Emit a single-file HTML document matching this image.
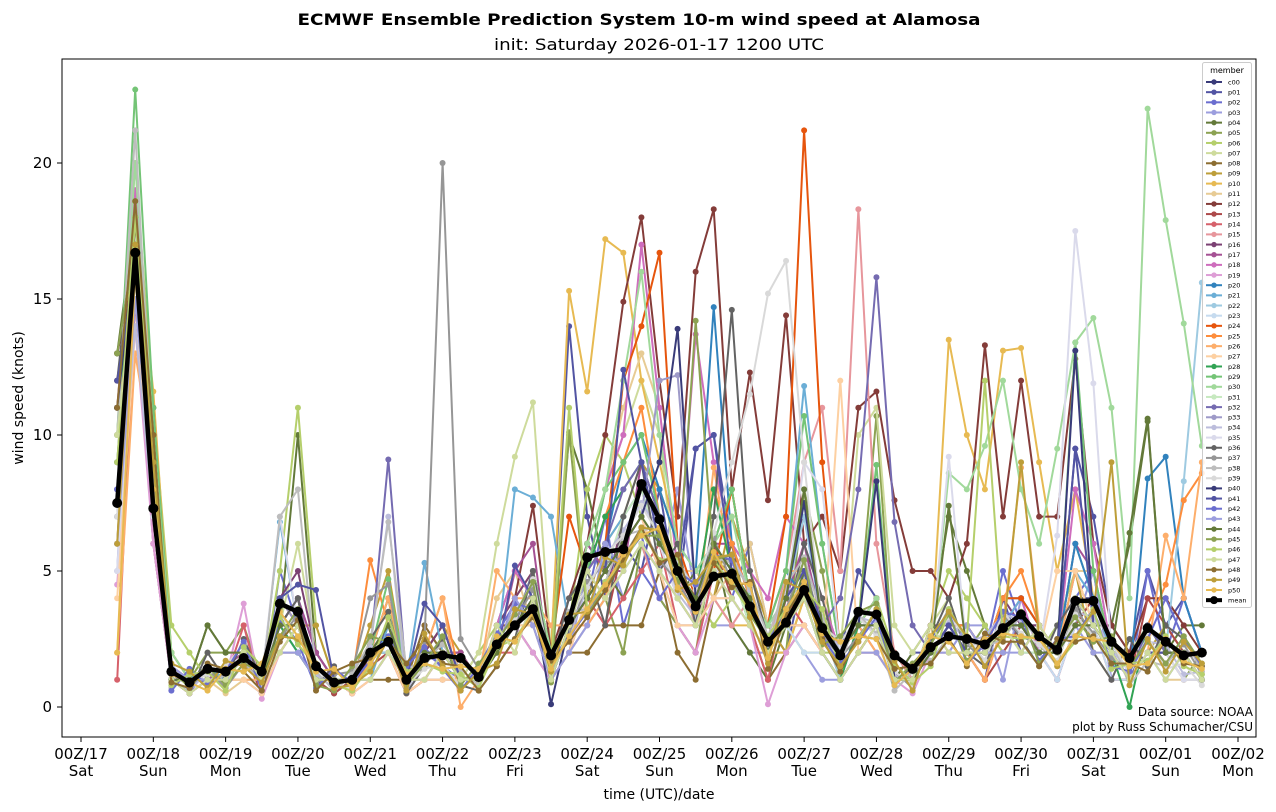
<!DOCTYPE html>
<html><head><meta charset="utf-8">
<style>
body{margin:0;background:#fff;}
svg{display:block;font-family:"DejaVu Sans","Liberation Sans",sans-serif;}
</style></head>
<body>
<svg id="chart" width="1276" height="812" viewBox="0 0 1276 812" xmlns="http://www.w3.org/2000/svg">
<text x="639" y="25" text-anchor="middle" font-size="16" font-weight="bold" textLength="683" lengthAdjust="spacingAndGlyphs">ECMWF Ensemble Prediction System 10-m wind speed at Alamosa</text>
<text x="659" y="50" text-anchor="middle" font-size="16" textLength="330" lengthAdjust="spacingAndGlyphs">init: Saturday 2026-01-17 1200 UTC</text>
<text transform="translate(23,398) rotate(-90)" text-anchor="middle" font-size="14">wind speed (knots)</text>
<text x="659" y="799" text-anchor="middle" font-size="14">time (UTC)/date</text>
<g id="xticks"></g>
<g id="yticks"></g>
<clipPath id="clip"><rect x="62" y="59" width="1194" height="678"/></clipPath>
<g id="series" clip-path="url(#clip)"></g>
<rect x="62" y="59" width="1194" height="678" fill="none" stroke="#000" stroke-width="1"/>
<text x="1253" y="716" text-anchor="end" font-size="12">Data source: NOAA</text>
<text x="1253" y="731" text-anchor="end" font-size="12">plot by Russ Schumacher/CSU</text>
<g id="legend"></g>
</svg>
<script>
const members = ["c00","p01","p02","p03","p04","p05","p06","p07","p08","p09","p10","p11","p12","p13","p14","p15","p16","p17","p18","p19","p20","p21","p22","p23","p24","p25","p26","p27","p28","p29","p30","p31","p32","p33","p34","p35","p36","p37","p38","p39","p40","p41","p42","p43","p44","p45","p46","p47","p48","p49","p50"];
const colors = ["#393b79","#5254a3","#6b6ecf","#9c9ede","#637939","#8ca252","#b5cf6b","#cedb9c","#8c6d31","#bd9e39","#e7ba52","#e7cb94","#843c39","#ad494a","#d6616b","#e7969c","#7b4173","#a55194","#ce6dbd","#de9ed6","#3182bd","#6baed6","#9ecae1","#c6dbef","#e6550d","#fd8d3c","#fdae6b","#fdd0a2","#31a354","#74c476","#a1d99b","#c7e9c0","#756bb1","#9e9ac8","#bcbddc","#dadaeb","#636363","#969696","#bdbdbd","#d9d9d9","#393b79","#5254a3","#6b6ecf","#9c9ede","#637939","#8ca252","#b5cf6b","#cedb9c","#8c6d31","#bd9e39","#e7ba52"];
const memberValues = [
"11 17 9 1 1 1.5 1 2 1 4 | 3 1 .5 1 2 2 1 2 2 1 | 1 2 3 4 2 3 6 5 6 8 | 7 5 4 5 5 4 2 3 4 3 | 2 3 3 2 1 2 3 2 2 3 | 3 3 2 4 4 2 2 3 2 2 | 2",
"12 16 8 1.5 1 1 1 2 1 3 | 4 2 1 1 1.5 3 1 3 2 2 | 1 3 5 4 2 14 7 4 6 5 | 8 4 9.5 10 6 5 3 2 5 4 | 2 5 4 1 2 2 3 2 1 4 | 2 3 2 9.5 7 3 2 5 3 4 | 2",
"9 15 6 1 .5 1.5 1 1 .5 5 | 3 2 1 1 2 4 1 2 1.5 1 | 1 2 3 2 1 3 4 7 3 5 | 4 3 2 5 4 6 3 4 5 2 | 1 3 4 1 1 2 3 3 2 5 | 3 2 3 4 5 1 1 5 2 4 | 2",
"5 18 7 2 1 1 1.5 2 1 2 | 3 1 1 .5 1 2 .5 1 2 1 | 1 2 4 3 1 2 5 6 4 6 | 5 8 4 3 3 2 2 3 2 1 | 1 2 2 1 1 2 2 3 3 1 | 4 2 1 3 5 1 1 2 1 2 | 1",
"13 18 10 1 1 3 2 2 1 3 | 10 2 1 .5 2 3 1 1 2 2 | 1 2 3 5 2 10 8 5 4 6 | 5 4 5 6 3 2 1 3 5 2 | 1 2 3 1 2 3 7 5 3 2 | 3 2 2 4 3 3 6 10.5 2 3 | 3",
"11 19 9 2 1 2 2 3 1 4 | 3 1 .5 1 2 4 .5 1 2 1 | 1 2 3 2 1 2 3 4 2 6 | 4 3 2 6 8 4 2 2 8 5 | 1 3 10.7 1 1 3 2 2 3 2 | 3 2 1 3 4 2 1 3 2 1 | 2",
"10 20 11 3 2 1 1 2 1 5 | 11 3 1 1 2 2 1 1 2 1 | 2 3 4 5 2 3 8 10 9 7 | 6 5 4 3 4 3 2 3 2 2 | 2 3 4 2 1 3 5 4 3 2 | 3 2 3 5 3 2 1 2 3 2 | 2",
"8 15 7 1 .5 1 1 1 1 3 | 6 2 1 1 1.5 2 .5 1 1 1 | 2 6 9.2 11.2 2 3 5 8 10 12 | 10 4 3 5 5 4 2 3 4 3 | 2 10 11 3 2 3 4 2 2 3 | 2 3 2 6 4 2 2 3 2 2 | 1",
"6 18 7 1 1 1 1 2 1 3 | 4 1 1 1 1 1 1 3 2 1 | 1 3 3 3 1 2 2 3 3 3 | 5 2 1 4 6 3 1 2 3 2 | 1 2 3 2 1 2 3 2 2 3 | 3 2 2 3 3 2 1 2 2 1 | 1",
"12 17 10 2 1 1 1 2 1 4 | 3 3 1 1 3 5 1 2 3 2 | 1 2 3 5 2 3 4 6 7 9 | 8 6 3 4 7 5 3 2 4 3 | 1 2 3 1 1 2 3 2 1 3 | 2 3 2 5 2 1 1 2 3 2 | 2",
"9 18 11.6 2 1 1 1 2 1 2 | 3 1 1 1 1 2 1 2 3 1 | 1 3 4 5 2 15.3 11.6 17.2 16.7 12 | 9 6 5 4 3 3 2 2 4 3 | 2 3 4 1 1 2 13.5 10 8 13.1 | 13.2 9 5 8 4 2 1 3 2 1 | 1",
"7 14 8 1 1 1 .5 1 1 2 | 2 1 1 .5 1 2 .5 1 1 1 | 1 4 5 3 1 3 6 8 11 13 | 11 5 5 4 5 6 3 3 3 2 | 1 3 4 1 1 2 3 2 2 2 | 3 2 2 5 5 2 1 2 1 1 | 1",
"13 16 11 1 1 1 1 2 1 3 | 4 1 1 .5 2 3 1 2 3 1 | 1 2 4 7.4 2 4 6 10 14.9 18 | 12 7 16 18.3 8 12.3 7.6 14.4 6 7 | 5 11 11.6 7.6 5 5 4 6 13.3 7 | 12 7 7 12.8 6 3 2 4 4 3 | 2",
"11 16 10 1 1 1 1 2 .5 2 | 2 1 .5 1 1.5 2 .5 1 1 1 | 1 2 3 5 1 2 4 3 6 7 | 5 3 3 6 4 3 2 3 4 2 | 1 2 3 1 1 2 3 2 1 2 | 3 2 1 3 4 2 1 4 3 2 | 1",
"1 15 6 1 .5 1 1 3 .5 2 | 3 1 1 1 1 2 .5 1 2 1 | 1 2 2 4 1 3 4 3 4 5 | 6 3 2 5 4 3 1 4 3 2 | 1 2 2 1 1 3 2 2 1 3 | 2 3 2 3 3 1 1 2 2 1 | 1",
"8 17 7 1 .5 1 1 2 1 3 | 2 1 1 1 2 3 1 1 2 1 | 1 2 3 2 1 2 3 4 5 6 | 4 5 3 4 3 4 2 5 9 11 | 5 18.3 6 2 1 2 3 2 2 3 | 2 2 1 3 3 2 1 2 2 1 | 1",
"10 17 8 1 1 1 1 2 1 4 | 5 2 1 1 2 3 1 2 3 1 | 1 3 4 5 1 3 5 4 7 8 | 6 4 3 5 5 4 2 3 3 2 | 1 3 4 1 1 3 3 3 2 4 | 3 3 2 4 3 2 1 3 2 2 | 2",
"12 16 9 1 1 1 1.5 2 1 3 | 4 2 1 1 2 3 1 2 2 2 | 1 2 5 6 1 3 6 5 5 9 | 7 4 3 6 6 4 2 4 6 3 | 2 3 3 1 1 2 3 3 2 3 | 4 3 2 6 5 2 1 3 2 2 | 1",
"11 19 10 1 1 1 1 2 1 2 | 3 1 1 1 1 2 1 1 2 1 | 1 3 5 4 2 3 5 8 10 17 | 11 5 13.7 9 6 5 4 7 6 4 | 2 3 4 1 1 2 3 2 2 3 | 4 2 2 8 6 2 1 3 2 2 | 1",
"4.5 14 6 1 .5 1 1 3.8 .3 2 | 3 1 1 .5 1 2 1 1 1 1 | 1 2 3 2 1 2 3 4 5 6 | 5 3 2 4 4 3 .1 2 3 2 | 1 2 2 1 .5 2 2 2 2 3 | 2 2 1 3 3 2 1 2 2 1 | 1",
"8 17 8 1 1 1 1 2 1 3 | 2 1 1 1 2 2 1 2 2 1 | 1 2 3 4 2 3 5 6 9 10 | 8 6 5 14.7 6 4 3 5 4 3 | 2 3 4 1 1 2 3 3 2 4 | 4 3 2 6 4 2 1 8.4 9.2 4 | 2",
"9 18 9 1 1 1.5 1 2 1 6.8 | 3 1 1 1 1 3 1 5.3 2 1 | 1 2 8 7.7 7 3 5 6 7 8 | 6 5 4 6 5 4 3 5 11.8 6 | 2 3 4 1 1 2 3 3 2 3 | 4 3 2 5 4 2 1 3 2 2 | 1",
"7 16 8 1 1 1 1 2 1 3 | 2 1 1 1 2 2 1 2 2 1 | 1 2 3 4 1 3 4 5 6 7 | 6 5 4 6 5 4 2 4 7 3 | 1 3 2 1 1 2 3 2 2 3 | 2 2 2 4 3 2 1 3 2 8.3 | 15.6",
"5 15 7 1 1 1 1 1 1 2 | 2 1 1 1 1 2 1 1 1 1 | 1 2 3 3 1 2 3 4 5 6 | 5 3 3 4 4 3 2 3 2 2 | 1 2 2 1 1 2 2 2 2 3 | 2 2 1 3 3 1 1 2 2 1 | 1",
"11 17 9 1 1 1 1 2 1 2 | 3 1 1 1 2 3 1 2 2 1 | 1 2 3 4 2 7 5 6 12 14 | 16.7 6 4 5 8 4 3 7 21.2 9 | 2 3 4 1 1 2 3 3 2 4 | 4 3 2 3 3 2 1 3 2 2 | 1",
"10 17 10 1 1 1 1 2 1 4 | 3 1 1 1 5.4 3 1 2 4 1 | 1 2 3 5 1 3 5 7 9 11 | 7 5 4 8 6 4 2 4 4 3 | 2 3 2 1 1 2 3 3 2 4 | 5 3 2 4 3 2 1 3 4.5 7.6 | 8.6",
"2 13 9 2 1 1 1 1 1 3 | 3 1 1 1 2 4 1 2 4 0 | 1 5 4 4 3 3 3 4 6 7 | 5 4 3 8.8 5 4 3 5 5 3 | 2 3 2 1 1 2 3 2 1 3 | 8.8 3 2 5 3 2 1 2 6.3 4 | 9",
"4 14 8 1 1 1 1 1 .5 2 | 3 1 1 .5 1 2 .5 1 1 1 | 1 2 3 3 1 2 4 5 6 7 | 5 3 3 4 4 3 2 3 3 2 | 12 2 2 1 1 2 2 2 2 3 | 3 2 5 5 3 2 1 2 2 1 | 1",
"11 16 10 1 1 1 1 2 1 3 | 2 1 1 1 2 3 1 2 2 1 | 1 2 3 5 2 3 5 7 8 9 | 7 5 4 8 5 3 2 3 4 2 | 1 3 3 1 1 2 3 2 2 3 | 3 2 2 4 3 2 0 3 2 2 | 1",
"10 22.7 11 2 1 1 1 2 1 3 | 3 1 1 1 2 4.7 1 2 2 1 | 1 2 3 5 2 3 5 8 9 10 | 7 5 4 6 8 4 3 5 10.7 6 | 2 3 8.9 1 1 2 3 2 2 3 | 3 2 2 13.4 5 2 1 3 2 2 | 1",
"10 20 10 2 1 1 1 2 1 3 | 3 1 1 1 2 3 1 2 2 1 | 1 2 3 5 2 3 6 8 12 16 | 10 6 5 6 7 4 3 4 5 3 | 2 3 4 1 1 2 8.6 8 9.6 12 | 8 6 9.5 13.4 14.3 11 4 22 17.9 14.1 | 9.6",
"9 16 9 1 1 1 1 2 1 3 | 3 1 1 1 2 3 1 2 2 1 | 1 2 3 4 1 3 4 5 7 8 | 6 4 3 5 5 3 2 4 4 3 | 2 3 3 1 1 2 3 2 2 3 | 2 2 2 3 3 2 1 2 2 1 | 1",
"8 16 8 1 1 1 1 2 1 3 | 4 1 1 1 2 9.1 1 2 2 1 | 1 2 3 5 1 3 5 6 8 9 | 7 5 4 6 5 4 2 4 5 3 | 4 8 15.8 6.8 3 2 3 2 2 3 | 3 2 2 4 3 2 1 3 2 2 | 1",
"7 15 8 1 1 1 1 2 1 4 | 3 1 1 1 2 3 1 2 2 1 | 1 2 3 4 1 3 4 5 6 7 | 12 12.2 4 5 5 4 2 3 4 3 | 2 3 3 1 1 2 3 2 2 3 | 3 2 2 3 3 2 1 2 2 2 | 1",
"6 14 7 1 .6 1.3 .8 2 1 3 | 3 1.2 .7 1.4 2.2 7 .6 1.8 2.5 .9 | 1.3 2.4 3.5 4.5 1.2 2.6 4.4 5.5 6.5 7.5 | 6.5 4.2 3.3 5.4 5.5 4.3 2.2 4.4 4.1 3.2 | 2.1 3.3 3.1 1.2 .8 2.5 3.2 2.4 2.6 3.4 | 3.2 2.5 2.2 3.5 3.3 2.1 1.3 2.4 2.3 1.2 | 1.3",
"5 16 7 1 1 1 1 2 1 7 | 3 1 1 1 2 3 1 2 2 1 | 1 2 3 4 1 3 4 5 6 7 | 6 4 3 5 5 4 2 4 9 8 | 2 3 3 1 1 2 9.2 2 2 3 | 3 2 6.3 17.5 11.9 2 1 2 2 1 | 1",
"12 18 10 1 .5 2 1 2.5 1 3 | 4 .8 1.5 .6 2.5 3.5 .5 1.5 2.5 .8 | .6 1.5 2.5 5 1.5 4 5 3 7 9 | 5 6 3 7 14.6 5 2.5 3 6 4 | 1.5 2.5 3.5 .8 1.5 2.5 4 2 1.5 3.5 | 2.5 1.5 3 4 2 1 2.5 1.5 3 2.5 | 1.5",
"9 17 8 1.2 .8 1.4 .7 1.6 1 2.5 | 3.4 .9 1.2 1.3 4 4.5 .7 2.4 20 2.5 | 1.4 2.6 3.2 4.3 1.5 2.7 4.6 5.3 5.5 6.6 | 5.4 4.6 3.5 6.2 4.6 3.6 2.4 3.6 5.4 2.7 | 1.8 2.6 3.5 1.3 .7 2.4 3.6 2.3 1.7 3.4 | 2.6 2.3 1.6 3.6 2.7 1.8 1.4 2.5 1.6 2.3 | 1.2",
"10 21.2 9 .7 1.3 .8 1.2 1.7 .8 7 | 8 1.3 .6 1.2 2.4 6.8 1.4 1.7 2.3 1.4 | .8 2.3 3.6 3.4 1.2 3.5 3.6 4.6 6.3 6.5 | 6.6 5.4 4.3 5.5 5.3 4.4 2.6 4.5 5.5 3.3 | 1.6 3.4 2.7 .6 1.3 1.7 2.6 2.4 2.2 2.5 | 3.4 2.4 1.5 2.6 3.4 2.5 .8 1.7 1.5 2.6 | 1.3",
"7 16 8 1.3 .9 1.2 1.5 2.3 .7 3.4 | 2.6 1.4 .8 .7 1.6 2.5 .8 1.4 1.6 .7 | 1.2 2.5 3.3 4.7 1.4 3.3 4.4 5.6 6.3 7.4 | 6.3 5.3 4.3 6.4 9 11.5 15.2 16.4 9 3 | 2.4 3.3 2.6 1.3 .8 2.4 3.3 2.6 1.7 3.5 | 2.7 2.3 1.7 3.4 2.6 2.4 1.2 2.6 1.4 1.6 | .8",
"11 17 10 1 1 1 1 2 1 3 | 3 1 1 1 2 3 1 2 2 1 | 1 2 3 4 .1 3 4 5 6 7 | 9 13.9 4 6 5 4 2 4 7.5 3 | 2 3 8.3 1 1 2 3 2 2 3 | 3 2 2 13.1 3 2 1 2 2 2 | 1",
"12 16 9 1 1 1 1 2 1 4 | 4.5 4.3 1 1 2 3 1 3.8 3 1 | 1 2 5.2 4 1 3 4 5 12.4 9 | 6 5 9.5 10 5 4 2 4 5 3 | 2 3 3 1 1 2 3 2 2 3 | 3 2 2 9.5 3 2 1 2 2 2 | 1",
"8 16 9 .6 1.4 .8 1.3 2.4 .6 3.2 | 2.4 .7 1.4 .9 1.7 2.6 1.5 2.2 1.4 .6 | 1.5 2.7 3.8 3.6 1.7 2.6 3.5 4.4 5.4 6.3 | 4 5 4.5 5.6 5.4 3.6 2.4 3.5 4.6 2.6 | 1.6 2.4 3.3 .8 1.4 2.5 3.5 1.6 2.3 3.5 | 3.3 1.7 2.5 2.6 3.6 1.5 1.3 2.5 4 2.5 | 1.5",
"6 15 8 1.5 1 1 1 2 1 2 | 2 1 1 1 1 2 1 2 2 1 | 1 2 4 3 1 2 3 6 5 6 | 5 4 3 5 4 3 2 3 4 2 | 1 2 2 1 1 2 2 3 2 2 | 2 3 2 3 2 2 1 2 1 2 | 1",
"13 17 10 1 1 3 2 2 1 3 | 3 1 1 1 2 3 1 2 2 1 | 1 2 3 4 1 3 4 5 6 7 | 6 5 4 6 5 4 2 4 8 3 | 2 3 3 1 1 2 7.4 2 2 3 | 3 2 2 3 3 2 6.4 10.6 2 2 | 1",
"13 17 10 1.4 .7 1.5 .8 1.6 1.3 2.6 | 3.6 .8 .6 1.5 2.6 2.4 .8 1.6 2.6 .8 | 1.6 2.4 3.4 4.6 .9 10.1 3.4 4.4 5.5 6.3 | 6.3 4.6 14.2 5.4 5.6 3.4 2.4 3.3 5.4 2.3 | 2.6 3.5 3.8 .9 1.6 2.3 3.4 1.7 2.4 2.6 | 3.5 1.6 2.4 3.3 2.4 2.6 1.5 2.4 1.6 2.6 | 1.6",
"9 18 9 .8 1.2 1.3 .6 2.2 1.5 3.3 | 2.3 1.5 .8 .6 1.5 3.3 1.3 1.6 1.3 1.2 | .7 2.2 2.5 3.5 1.6 11 3.6 4.6 5.3 6.4 | 5.4 5.5 3.6 5.4 4.5 3.5 2.6 3.6 4.4 3.6 | 1.4 2.5 3.6 1.6 .9 1.5 3.6 2.5 12 2.6 | 2.5 2.6 1.6 2.4 3.6 1.4 1.6 1.7 2.6 1.5 | 1.2",
"10 16 8 1 .5 1 1 2 1 2 | 3 1 1 1 1 2 1 1 2 1 | 1 3 2 4 1 3 5 4 5 6 | 5 4 3 5 4 3 2 3 4 2 | 1 2 3 1 1 3 2 2 2 3 | 2 3 2 4 3 2 1 2 1 2 | 1",
"11 18.6 10 .9 .7 1.6 1.4 1.3 .6 2.4 | 3.2 .6 1.3 1.6 1.8 2.4 1.6 2.5 1.6 1.5 | .6 1.5 2.5 3.3 1.7 2.4 3.3 4.3 5.4 6.6 | 5.3 5.6 3.5 5.3 4.4 4.6 1.4 3.4 4.5 2.5 | 1.3 2.6 2.5 1.4 1.5 1.6 2.5 1.5 2.7 2.4 | 2.4 1.5 2.5 2.4 2.6 1.6 1.6 1.3 2.5 1.6 | 1.5",
"6 17 9 1.6 1.3 .7 1.7 1.5 .9 2.6 | 2.5 1.6 .7 .8 1.3 2.5 .6 2.7 1.5 .6 | 1.3 1.6 3.6 3.4 1.3 3.4 3.5 5.5 5.2 6.6 | 6.5 4.3 4.6 5.5 5.6 3.3 1.6 4.6 4.3 2.4 | 1.5 2.4 3.6 1.7 .6 2.6 3.5 2.6 1.5 2.6 | 9 2.6 1.5 2.6 3.5 9 .8 2.5 1.3 2.4 | 1.6",
"2 16 8 1.2 .9 .6 1.4 1.3 1.6 3.5 | 2.6 1.3 1.4 .7 1.6 2.5 1.2 1.6 1.4 1.5 | 1.4 2.6 2.4 3.5 1.4 2.6 3.6 4.5 5.6 6.3 | 6.6 4.4 3.5 5.7 4.6 4.5 1.8 3.6 4.6 2.7 | 2.4 2.6 2.5 .8 1.4 2.6 2.4 1.6 2.5 2.7 | 2.6 2.5 1.6 2.6 2.5 2.4 1.5 1.6 2.5 1.7 | 1.4"
];
const meanValues = [7.5,16.7,7.3,1.3,0.9,1.4,1.3,1.8,1.3,3.8,3.5,1.5,0.9,1.0,2.0,2.4,1.0,1.8,1.9,1.8,1.1,2.3,3.0,3.6,1.9,3.2,5.5,5.7,5.8,8.2,6.9,5.0,3.7,4.8,4.9,3.7,2.4,3.1,4.3,2.9,1.9,3.5,3.4,1.9,1.4,2.2,2.6,2.5,2.3,2.9,3.4,2.6,2.1,3.9,3.9,2.4,1.8,2.9,2.4,1.9,2.0];
const startHour = 12;
const stepHours = 6;
const xTickDays = ["00Z/17","00Z/18","00Z/19","00Z/20","00Z/21","00Z/22","00Z/23","00Z/24","00Z/25","00Z/26","00Z/27","00Z/28","00Z/29","00Z/30","00Z/31","00Z/01","00Z/02"];
const xTickWeekdays = ["Sat","Sun","Mon","Tue","Wed","Thu","Fri","Sat","Sun","Mon","Tue","Wed","Thu","Fri","Sat","Sun","Mon"];
const yTicks = [0,5,10,15,20];

const NS="http://www.w3.org/2000/svg";
function xScale(h){return 81+h*(1157/384);}
function yScale(v){return 707-v*27.2;}
function mk(tag,attrs,parent){const e=document.createElementNS(NS,tag);for(const k in attrs)e.setAttribute(k,attrs[k]);parent.appendChild(e);return e;}

const xg=document.getElementById('xticks');
xTickDays.forEach((d,i)=>{
  const x=xScale(i*24);
  const t=mk('line',{x1:x,x2:x,y1:737,y2:742,stroke:'#000'},xg);
  
  
  const l=mk('text',{x:x,y:759,'text-anchor':'middle','font-size':15},xg);
  
  
  l.textContent=d;
  const w=mk('text',{x:x,y:776,'text-anchor':'middle','font-size':15},xg);
  
  
  w.textContent=xTickWeekdays[i];
});
const yg=document.getElementById('yticks');
yTicks.forEach(v=>{
  const y=yScale(v);
  const t=mk('line',{x1:57,x2:62,y1:y,y2:y,stroke:'#000'},yg);
  
  
  const l=mk('text',{x:52,y:y+5,'text-anchor':'end','font-size':15},yg);
  
  
  l.textContent=v;
});

const sg=document.getElementById('series');
function drawSeries(vals,color,lw,r,name){
  const g=mk('g',{},sg);
  
  
  const pts=vals.map((v,i)=>xScale(startHour+i*stepHours).toFixed(1)+','+yScale(v).toFixed(1)).join(' ');
  mk('polyline',{points:pts,fill:'none',stroke:color,'stroke-width':lw,'stroke-linejoin':'round'},g);
  vals.forEach((v,i)=>{
    const c=mk('circle',{cx:xScale(startHour+i*stepHours),cy:yScale(v),r:r,fill:color},g);
    
    
  });
}
members.forEach((m,k)=>{
  const vals=memberValues[k].split(/\s+/).filter(s=>s!=='|'&&s!=='').map(Number);
  drawSeries(vals,colors[k],2,3,'series-'+m);
});
drawSeries(meanValues,'#000',4.5,5,'series-mean');

const lg=document.getElementById('legend');
const box=mk('rect',{x:1202.5,y:62.5,width:49,height:545,rx:2,fill:'#fff','fill-opacity':0.85,stroke:'#ccc'},lg);


const lt=mk('text',{x:1227,y:73,'text-anchor':'middle','font-size':8},lg);


lt.textContent='member';
const names=members.concat(['mean']);
names.forEach((m,k)=>{
  const y=82+k*10.16;
  const col=k<members.length?colors[k]:'#000';
  const g=mk('g',{},lg);
  
  
  mk('line',{x1:1206,x2:1222,y1:y,y2:y,stroke:col,'stroke-width':k<members.length?2:4},g);
  mk('circle',{cx:1214,cy:y,r:k<members.length?2.7:4,fill:col},g);
  const t=mk('text',{x:1228,y:y+2.3,'font-size':6.5},g);
  t.textContent=m;
});
</script>
</body></html>
